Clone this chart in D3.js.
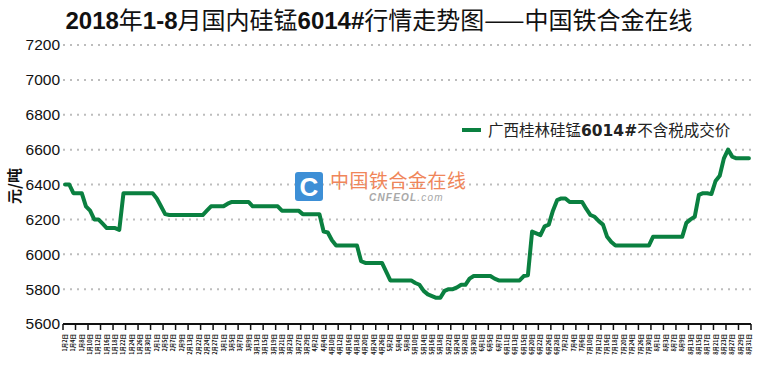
<!DOCTYPE html>
<html>
<head>
<meta charset="utf-8">
<script src="https://cdn.jsdelivr.net/npm/d3@7"></script>
<style>
  body { margin: 0; background: #fff; }
  svg { display: block; font-family: "Liberation Sans", Arial, sans-serif; }
</style>
</head>
<body>
<svg id="chart" width="760" height="373"></svg>
<script>
// trading days, Jan-Aug 2018 (day numbers per month)
var janDays = [2,3,4,5,8,9,10,11,12,15,16,17,18,19,22,23,24,25,26,29,30,31];
var febDays = [1,2,5,6,7,8,9,12,13,14,22,23,24,26,27,28];
var marDays = [1,2,5,6,7,8,9,12,13,14,15,16,19,20,21,22,23,26,27,28,29,30];
var aprDays = [2,3,4,9,10,11,12,13,16,17,18,19,20,23,24,25,26,27];
var mayDays = [2,3,4,7,8,9,10,11,14,15,16,17,18,21,22,23,24,25,28,29,30,31];
var junDays = [1,4,5,6,7,8,11,12,13,14,15,19,20,21,22,25,26,27,28,29];
var julDays = [2,3,4,5,6,9,10,11,12,13,16,17,18,19,20,23,24,25,26,27,30,31];
var augDays = [1,2,3,6,7,8,9,10,13,14,15,16,17,20,21,22,23,24,27,28,29,30,31];

// 广西桂林硅锰6014# 不含税成交价 (元/吨)
var prices = [
  6400,6400,6350,6350,6350,6275,6250,6200,6200,6175,6150,6150,6150,6140,6350,6350,6350,6350,6350,6350,
  6350,6350,6320,6275,6230,6225,6225,6225,6225,6225,6225,6225,6225,6225,6250,6275,6275,6275,6275,6290,
  6300,6300,6300,6300,6300,6275,6275,6275,6275,6275,6275,6275,6250,6250,6250,6250,6250,6230,6230,6230,
  6230,6230,6130,6125,6080,6050,6050,6050,6050,6050,6050,5960,5950,5950,5950,5950,5950,5900,5850,5850,
  5850,5850,5850,5850,5835,5825,5790,5770,5760,5750,5750,5790,5800,5800,5810,5825,5825,5860,5875,5875,
  5875,5875,5875,5860,5850,5850,5850,5850,5850,5850,5875,5880,6130,6120,6110,6160,6170,6250,6310,6320,
  6320,6300,6300,6300,6300,6260,6225,6215,6190,6170,6100,6070,6050,6050,6050,6050,6050,6050,6050,6050,
  6050,6100,6100,6100,6100,6100,6100,6100,6100,6180,6200,6215,6340,6350,6350,6345,6420,6450,6550,6600,
  6560,6550,6550,6550,6550
];

var yTicks = [5600,5800,6000,6200,6400,6600,6800,7000,7200];

var months = [janDays, febDays, marDays, aprDays, mayDays, junDays, julDays, augDays];
var dates = [];
months.forEach(function(days, m) {
    days.forEach(function(d) { dates.push((m + 1) + "月" + d + "日"); });
});
var data = dates.map(function(d, i) { return {date: d, price: prices[i]}; });

var svg = d3.select("#chart");
var plotLeft = 63, plotRight = 751, plotTop = 45, plotBottom = 324;
var green = "#0a8040";

var x = d3.scaleBand().domain(dates).range([plotLeft, plotRight]).padding(0);
var y = d3.scaleLinear().domain([5600, 7200]).range([plotBottom, plotTop]);
var step = x.step();

// title
var title = svg.append("text")
    .attr("x", 379).attr("y", 29)
    .attr("text-anchor", "middle")
    .attr("font-size", "24px")
    .attr("fill", "#111");
title.append("tspan").attr("font-family", "Liberation Sans Narrow, Liberation Sans").attr("font-weight", "bold").text("2018");
title.append("tspan").attr("font-family", "Noto Sans CJK SC").text("年");
title.append("tspan").attr("font-family", "Liberation Sans Narrow, Liberation Sans").attr("font-weight", "bold").text("1-8");
title.append("tspan").attr("font-family", "Noto Sans CJK SC").text("月国内硅锰");
title.append("tspan").attr("font-family", "Liberation Sans Narrow, Liberation Sans").attr("font-weight", "bold").text("6014#");
title.append("tspan").attr("font-family", "Noto Sans CJK SC").text("行情走势图——中国铁合金在线");

// gridlines
svg.append("g")
  .selectAll("line")
  .data(yTicks.slice(1))
  .enter().append("line")
    .attr("x1", plotLeft).attr("x2", plotRight + 4)
    .attr("y1", function(d) { return y(d); })
    .attr("y2", function(d) { return y(d); })
    .attr("stroke", "#bdbdbd")
    .attr("stroke-width", 2)
    .attr("stroke-dasharray", "2,5");

// y axis labels
var yAxis = d3.axisLeft(y).tickValues(yTicks).tickFormat(d3.format("d")).tickSize(0).tickPadding(3);
var gy = svg.append("g")
    .attr("transform", "translate(" + plotLeft + ",0)")
    .call(yAxis);
gy.select(".domain").remove();
gy.selectAll("text")
    .attr("font-size", "15.5px")
    .attr("font-family", "Liberation Sans, Arial, sans-serif")
    .attr("fill", "#111");

// y title
svg.append("text")
    .attr("transform", "translate(20,186) rotate(-90)")
    .attr("text-anchor", "middle")
    .attr("font-size", "15px")
    .attr("font-weight", "bold")
    .attr("font-family", "Noto Sans CJK SC")
    .attr("fill", "#111")
    .text("元/吨");

// watermark
var wm = svg.append("g");
wm.append("rect")
    .attr("x", 295).attr("y", 172).attr("width", 28).attr("height", 29)
    .attr("rx", 3).attr("fill", "#3d8fd6");
wm.append("text")
    .attr("x", 309).attr("y", 196)
    .attr("text-anchor", "middle")
    .attr("font-size", "26px").attr("font-weight", "bold")
    .attr("font-family", "Liberation Sans, Arial")
    .attr("fill", "#fff")
    .text("C");
wm.append("text")
    .attr("x", 330).attr("y", 188)
    .attr("font-size", "19px")
    .attr("font-family", "Noto Sans CJK SC")
    .attr("fill", "#f0865a")
    .attr("letter-spacing", "0.5px")
    .text("中国铁合金在线");
var cn = wm.append("text")
    .attr("x", 369).attr("y", 201)
    .attr("font-size", "10px").attr("font-style", "italic")
    .attr("letter-spacing", "1.2px")
    .attr("font-family", "Liberation Sans, Arial")
    .attr("fill", "#a8a8a8");
cn.append("tspan").attr("font-weight", "bold").text("CNFEOL");
cn.append("tspan").text(".com");

// x axis line and ticks (tick every 3 categories, at boundaries)
svg.append("line")
    .attr("x1", plotLeft).attr("x2", plotRight)
    .attr("y1", plotBottom).attr("y2", plotBottom)
    .attr("stroke", "#111").attr("stroke-width", 2);
var tickIdx = d3.range(0, dates.length + 1, 3);
svg.append("g")
  .selectAll("line")
  .data(tickIdx)
  .enter().append("line")
    .attr("x1", function(i) { return i < dates.length ? x(dates[i]) : x(dates[dates.length - 1]) + step; })
    .attr("x2", function(i) { return i < dates.length ? x(dates[i]) : x(dates[dates.length - 1]) + step; })
    .attr("y1", plotBottom).attr("y2", plotBottom + 6)
    .attr("stroke", "#111").attr("stroke-width", 1.5);

// x labels every 2 categories
svg.append("g")
  .selectAll("text")
  .data(dates.filter(function(d, i) { return i % 2 === 0; }))
  .enter().append("text")
    .attr("transform", function(d) {
        return "translate(" + (x(d) + step / 2 + 2) + "," + (plotBottom + 10) + ") rotate(-90)";
    })
    .attr("text-anchor", "end")
    .attr("font-size", "5.5px")
    .attr("font-family", "Noto Sans CJK SC")
    .attr("font-weight", "bold")
    .attr("fill", "#111")
    .text(function(d) { return d; });

// price line
var line = d3.line()
    .x(function(d) { return x(d.date) + step / 2; })
    .y(function(d) { return y(d.price); });
svg.append("path")
    .datum(data)
    .attr("d", line)
    .attr("fill", "none")
    .attr("stroke", green)
    .attr("stroke-width", 4)
    .attr("stroke-linejoin", "round")
    .attr("stroke-linecap", "round");

// legend
svg.append("line")
    .attr("x1", 462).attr("x2", 481)
    .attr("y1", 130).attr("y2", 130)
    .attr("stroke", green).attr("stroke-width", 4);
var lg = svg.append("text")
    .attr("x", 488).attr("y", 136)
    .attr("font-size", "15.5px")
    .attr("fill", "#222");
lg.append("tspan").attr("font-family", "Noto Sans CJK SC").text("广西桂林硅锰");
lg.append("tspan").attr("font-family", "DejaVu Sans").attr("font-weight", "bold").text("6014#");
lg.append("tspan").attr("font-family", "Noto Sans CJK SC").text("不含税成交价");
</script>
</body>
</html>
